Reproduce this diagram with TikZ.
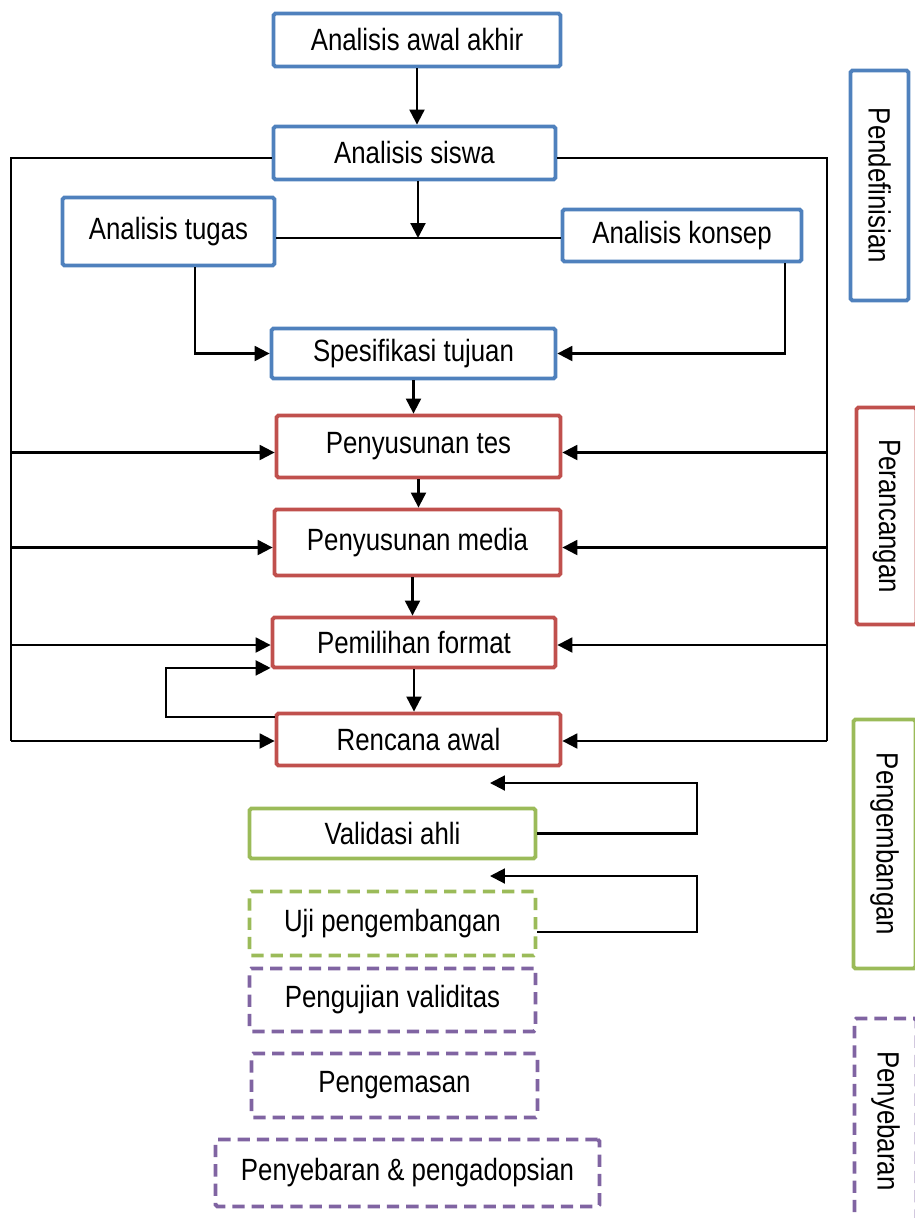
\documentclass[tikz,border=0pt]{standalone}
\usepackage{fontspec}
\setmainfont{Liberation Sans}[FakeStretch=0.84]
\usetikzlibrary{arrows.meta,positioning}

\definecolor{defblue}{RGB}{79,129,189}
\definecolor{desred}{RGB}{192,80,77}
\definecolor{devgreen}{RGB}{155,187,89}
\definecolor{dispurple}{RGB}{128,100,162}

\begin{document}
\begin{tikzpicture}[
  x=0.02cm, y=-0.02cm,
  font=\fontsize{17.5}{20}\selectfont,
  box/.style={draw, line width=2.2pt, rounded corners=1pt, fill=white,
    inner sep=2pt, align=center},
  defbox/.style={box, draw=defblue},
  desbox/.style={box, draw=desred},
  devbox/.style={box, draw=devgreen},
  dashbox/.style={dash pattern=on 7pt off 4pt},
  phase/.style={box, rotate=-90},
  arr/.style={-{Triangle[length=8.5pt,width=8.5pt]}, line width=1.2pt},
  ln/.style={line width=1.2pt},
]
  \useasboundingbox (0,0) rectangle (915,1218);

  % pendefinisian
  \node[defbox, minimum width=5.74cm, minimum height=1.06cm] (awal) at (417,40) {Analisis awal akhir};
  \node[defbox, minimum width=5.64cm, minimum height=1.06cm] (siswa) at (414.5,153) {Analisis siswa};
  \node[defbox, minimum width=4.24cm, minimum height=1.36cm] (tugas) at (168.5,231.5) {Analisis tugas};
  \node[defbox, minimum width=4.78cm, minimum height=1.04cm] (konsep) at (682,235.5) {Analisis konsep};
  \node[defbox, minimum width=5.68cm, minimum height=1.0cm] (spes) at (413.5,353.5) {Spesifikasi tujuan};

  % perancangan
  \node[desbox, minimum width=5.68cm, minimum height=1.24cm] (tes) at (418.5,446.5) {Penyusunan tes};
  \node[desbox, minimum width=5.72cm, minimum height=1.32cm] (media) at (417.5,542.5) {Penyusunan media};
  \node[desbox, minimum width=5.66cm, minimum height=1.0cm] (format) at (414,642.5) {Pemilihan format};
  \node[desbox, minimum width=5.68cm, minimum height=1.04cm] (rencana) at (418.5,739.5) {Rencana awal};

  % pengembangan
  \node[devbox, minimum width=5.72cm, minimum height=1.0cm] (validasi) at (392.5,833.5) {Validasi ahli};
  \node[devbox, dashbox, minimum width=5.72cm, minimum height=1.28cm] (uji) at (392.5,923.5) {Uji pengembangan};

  % penyebaran
  \node[box, draw=dispurple, dashbox, minimum width=5.72cm, minimum height=1.26cm] (validitas) at (392.5,1000) {Pengujian validitas};
  \node[box, draw=dispurple, dashbox, minimum width=5.72cm, minimum height=1.28cm] (kemas) at (394.5,1085.5) {Pengemasan};
  \node[box, draw=dispurple, dashbox, minimum width=7.68cm, minimum height=1.34cm] (sebar) at (407.5,1173) {Penyebaran \& pengadopsian};

  % tahap
  \node[phase, draw=defblue, minimum width=4.6cm, minimum height=1.16cm] (tdef) at (879.5,185.5) {Pendefinisian};
  \node[phase, draw=desred, minimum width=4.34cm, minimum height=1.2cm] (tdes) at (886.5,516) {Perancangan};
  \node[phase, draw=devgreen, minimum width=4.98cm, minimum height=1.24cm] (tdev) at (884.5,844) {Pengembangan};
  \node[phase, draw=dispurple, dashbox, minimum width=4.1cm, minimum height=1.24cm] (tdis) at (885.5,1121) {Penyebaran};

  \coordinate (jn) at (418,238);
  \coordinate (lb) at (11,741);
  \coordinate (rb) at (827,741);
  \coordinate (lp) at (166,717);
  \coordinate (vr) at (697,783);
  \coordinate (va) at (490,783);
  \coordinate (ur) at (697,876);
  \coordinate (ua) at (490,876);

  \draw[arr] (awal.south |- awal.south) -- (awal.south |- siswa.north);
  \draw[arr] (siswa.south -| jn) -- (jn);
  \draw[ln] (tugas.east |- jn) -- (konsep.west |- jn);
  \draw[arr] ([xshift=0.53cm]tugas.south) |- (spes.west);
  \draw[arr] ([xshift=2.06cm]konsep.south) |- (spes.east);

  \draw[arr] (spes.south) -- (spes.south |- tes.north);
  \draw[arr] (tes.south) -- (tes.south |- media.north);
  \draw[arr] ([xshift=-0.1cm]media.south) -- ([xshift=-0.1cm]media.south |- format.north);
  \draw[arr] (format.south) -- (format.south |- rencana.north);

  % umpan balik kiri
  \draw[ln] ([yshift=-0.1cm]siswa.west) -| (lb);
  \draw[arr] ([yshift=-0.12cm]tes.west -| lb) -- ([yshift=-0.12cm]tes.west);
  \draw[arr] ([yshift=-0.1cm]media.west -| lb) -- ([yshift=-0.1cm]media.west);
  \draw[arr] ([yshift=-0.05cm]format.west -| lb) -- ([yshift=-0.05cm]format.west);
  \draw[arr] (lb) -- (lb -| rencana.west);

  % umpan balik kanan
  \draw[ln] ([yshift=-0.1cm]siswa.east) -| (rb);
  \draw[arr] ([yshift=-0.12cm]tes.east -| rb) -- ([yshift=-0.12cm]tes.east);
  \draw[arr] ([yshift=-0.1cm]media.east -| rb) -- ([yshift=-0.1cm]media.east);
  \draw[arr] ([yshift=-0.05cm]format.east -| rb) -- ([yshift=-0.05cm]format.east);
  \draw[arr] (rb) -- (rb -| rencana.east);

  \draw[arr] (rencana.west |- lp) -- (lp) |- ([yshift=0.03cm]format.south west);

  \draw[arr] (validasi.east) -| (vr) -- (va);
  \draw[arr] ([yshift=-0.17cm]uji.east) -| (ur) -- (ua);
\end{tikzpicture}
\end{document}
